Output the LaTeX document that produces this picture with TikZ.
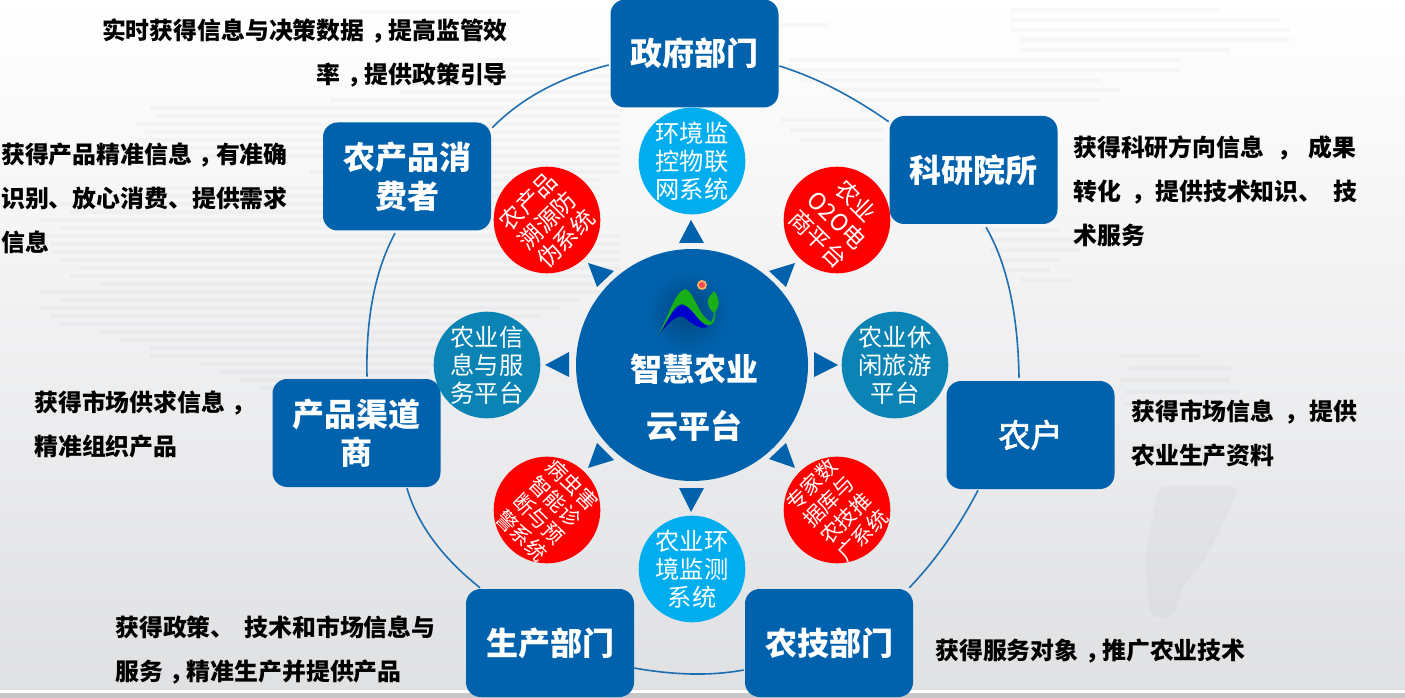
\documentclass[tikz,border=0pt]{standalone}
\usepackage{fontspec}
\usetikzlibrary{calc}
\setmainfont{Noto Sans CJK SC}
\newfontfamily\medcjk[FakeBold=2.5]{Noto Sans CJK SC}
\definecolor{boxblue}{HTML}{0062AD}
\definecolor{tealc}{HTML}{0B84B5}
\definecolor{cyanc}{HTML}{00AEEF}
\definecolor{redc}{HTML}{FF0000}
\definecolor{ringc}{HTML}{1F6FB0}
\definecolor{mapg}{HTML}{DADBDE}
% full-width comma set in the middle of its cell, #1 = extra room
\newcommand\zc[1][0pt]{\hspace{\dimexpr 5pt+#1/3\relax}，\hspace{\dimexpr -5pt+#1*2/3\relax}}
\tikzset{
  actor/.style={fill=boxblue,rounded corners=11pt,minimum width=126pt,minimum height=81pt,inner sep=0pt,text=white,align=center,font=\fontsize{24pt}{29pt}\selectfont\bfseries},
  hub/.style={circle,fill=boxblue,minimum size=174pt,inner sep=0pt},
  sat/.style={circle,minimum size=80pt,inner sep=0pt,text=white,align=center,font=\fontsize{18.2pt}{21pt}\selectfont},
  tealsat/.style={sat,fill=tealc},
  cyansat/.style={sat,fill=cyanc},
  redsat/.style={circle,minimum size=80pt,inner sep=0pt,fill=redc},
  redtext/.style={text=white,align=center,inner sep=0pt,font=\fontsize{17.5pt}{20pt}\selectfont},
  redsmall/.style={text=white,align=center,inner sep=0pt,font=\fontsize{15.5pt}{18pt}\selectfont},
  note/.style={inner sep=0pt,text=black,font=\fontsize{17.9pt}{33pt}\selectfont\bfseries},
  tip/.style={fill=boxblue},
  ringarc/.style={draw=ringc,line width=1.2pt},
  stripe/.style={draw=black,draw opacity=0.025,line width=3.4pt}
}
\begin{document}
\begin{tikzpicture}[x=0.75pt,y=-0.75pt]
\useasboundingbox (0,0) rectangle (1405,698);
% background
\shade[top color=white,bottom color=mapg!85!white] (0,0) rectangle (1405,690);
\fill[white] (0,690) rectangle (1405,693);
\fill[black!22] (0,693) rectangle (1405,698);
% faint map
\foreach \ya/\xa/\xb in {12/360/520,25/730/830,60/480/600,68/380/590,76/380/610,84/380/610,92/400/610,100/330/610,108/150/620,116/155/620,124/135/620,132/145/620,140/130/620,148/120/620,156/200/620,164/330/620,172/310/620,180/360/600,188/150/600,196/120/600,204/60/600,212/70/600,220/40/600,228/60/600,236/40/620,244/50/620,252/50/620,260/60/620,268/80/620,276/70/620,284/100/620,292/40/600,300/60/580,308/40/560,316/50/540,324/60/520,332/100/500,340/120/470,348/150/470,356/150/450,364/200/440,372/220/430,380/240/420,388/260/400}{
  \draw[stripe] (\xa,\ya) -- (\xb,\ya);
}
\foreach \ya/\xa/\xb in {10/1010/1220,20/1010/1280,30/1010/1290,40/1020/1290,50/1020/1230,60/790/1180,70/790/1180,80/800/1100,90/830/1120,100/840/1100,110/860/880,120/780/880,130/790/885,140/800/885,230/980/1060,240/990/1100,250/990/1080,260/1000/1060,270/1000/1050,280/1020/1070,356/1120/1200,368/1130/1230,380/1120/1230,392/1125/1240,404/1125/1250,446/1150/1240}{
  \draw[stripe] (\xa,\ya) -- (\xb,\ya);
}
\fill[black,fill opacity=0.022,rounded corners=8pt] (1158,486) -- (1240,486) -- (1225,520) -- (1205,560) -- (1180,590) -- (1175,618) -- (1150,618) -- (1145,560) -- cycle;
% actors
\node[actor] (gov) at (694.5,53.5) {政府部门};
\node[actor] (res) at (973.5,170) {科研院所};
\node[actor,font=\fontsize{24pt}{29pt}\selectfont\medcjk] (farm) at (1030.5,435) {农户};
\node[actor] (ext) at (829,643) {农技部门};
\node[actor] (prod) at (550,643) {生产部门};
\node[actor] (chan) at (356.5,433) {产品渠道\\商};
\node[actor] (cons) at (407,176.5) {农产品消\\费者};
% ring, as arcs from box to box
\draw[ringarc] ($(cons.north east)+(1,5.5)$) .. controls (521,98.3) and (560,77.3) .. ($(gov.west)+(-1.5,11.5)$);
\draw[ringarc] ($(gov.east)+(0.5,12.5)$) .. controls (814.3,76.7) and (851,95.3) .. ($(res.north west)+(-0.5,6)$);
\draw[ringarc] ($(res.south)+(12.5,3)$) .. controls (1007,263.3) and (1018,313.7) .. ($(farm.north)+(-11.5,-3)$);
\draw[ringarc] ($(farm.south)+(-52.5,1)$) .. controls (958.3,528) and (935.3,560.7) .. ($(ext.north east)+(-4,-1)$);
\draw[ringarc] ($(ext.west)+(-1,27)$) .. controls (711.3,676) and (674.7,675.3) .. ($(prod.east)+(0,25)$);
\draw[ringarc] ($(prod.north)+(-70,-1)$) .. controls (441.7,557.3) and (417.3,524) .. ($(chan.south)+(50.5,1)$);
\draw[ringarc] ($(chan.north)+(10.5,-2)$) .. controls (365.7,318.3) and (375,270.3) .. ($(cons.south)+(-12,2.5)$);
% hub
\node[hub] (hubc) at (692,365) {};
\shade[inner color=boxblue!72!black,outer color=boxblue] (688,312) circle (42);
\node[text=white,inner sep=0pt,align=center,font=\fontsize{24pt}{43pt}\selectfont\bfseries] (hubt) at (694.5,398) {智慧农业\\云平台};
% logo
\fill[blue!80!black] (658,335) .. controls (668,322) and (672,308) .. (682,305) .. controls (692,306) and (698,322) .. (708,327) .. controls (700,330) and (692,324) .. (684,317) .. controls (676,314) and (668,324) .. cycle;
\fill[green!65!black!90!white] (658,335) .. controls (668,318) and (675,292) .. (685,289) .. controls (694,291) and (698,316) .. (711,322) .. controls (714,318) and (714,314) .. (714,312) -- (715,312) .. controls (716,320) and (713,325) .. (709,325) .. controls (698,325) and (692,304) .. (681,304) .. controls (672,306) and (667,324) .. cycle;
\fill[green!65!black!90!white] (714,291) .. controls (718,296) and (720,302) .. (718,307) .. controls (717,310) and (715,312) .. (714,313) .. controls (709,309) and (707,304) .. (708,300) .. controls (709,296) and (712,294) .. cycle;
\fill[orange!60!white] (702,285) circle (5);
\fill[red!70!white] (702,285) circle (3);
% satellites
\node[cyansat] (env) at (692,161) {环境监\\控物联\\网系统};
\node[cyansat] (mon) at (692,569) {农业环\\境监测\\系统};
\node[tealsat] (info) at (487,365) {农业信\\息与服\\务平台};
\node[tealsat] (leis) at (895,365) {农业休\\闲旅游\\平台};
\node[redsat] (trace) at (547,220) {};
\node[redsat] (o2o) at (837,220) {};
\node[redsat] (pest) at (547,510) {};
\node[redsat] (expert) at (837,510) {};
\node[redtext,rotate=45] (tracet) at (trace) {农产品\\溯源防\\伪系统};
\node[redtext,rotate=-45] (o2ot) at (o2o) {农业\\O2O电\\商平台};
\node[redsmall,rotate=-45] (pestt) at (pest) {病虫害\\智能诊\\断与预\\警系统};
\node[redsmall,rotate=45] (expertt) at (expert) {专家数\\据库与\\农技推\\广系统};
% pointers
\fill[tip] (691,220) -- (679,243) -- (704,243) -- cycle;
\fill[tip] (691,512) -- (679,488) -- (704,488) -- cycle;
\fill[tip] (545,365) -- (569,352) -- (569,377) -- cycle;
\fill[tip] (838,365) -- (814,352) -- (814,377) -- cycle;
\fill[tip] (588,263) -- (614,271) -- (597,287) -- cycle;
\fill[tip] (795,263) -- (769,271) -- (786,287) -- cycle;
\fill[tip] (588,468) -- (614,460) -- (597,443) -- cycle;
\fill[tip] (795,468) -- (769,459) -- (786,443) -- cycle;
% notes
\node[note,anchor=east,align=right] (n1) at (508,53) {实时获得信息与决策数据\zc 提高监管效\\率\zc 提供政策引导};
\node[note,anchor=west,align=left] (n2) at (1,198) {获得产品精准信息\zc 有准确\\识别、放心消费、提供需求\\信息};
\node[note,anchor=west,align=left] (n3) at (1073,191) {获得科研方向信息\zc[15.5pt]成果\\转化\zc[8pt]提供技术知识、\hspace{8pt}技\\术服务};
\node[note,anchor=west,align=left] (n4) at (1131,433) {获得市场信息\zc[8.4pt]提供\\农业生产资料};
\node[note,anchor=west,align=left] (n5) at (34,424.5) {获得市场供求信息\zc\\精准组织产品};
\node[note,anchor=west,align=left] (n6) at (115,649.5) {获得政策、\hspace{7.5pt}技术和市场信息与\\服务\zc 精准生产并提供产品};
\node[note,anchor=west,align=left] (n7) at (935,651) {获得服务对象\zc 推广农业技术};
\end{tikzpicture}
\end{document}
